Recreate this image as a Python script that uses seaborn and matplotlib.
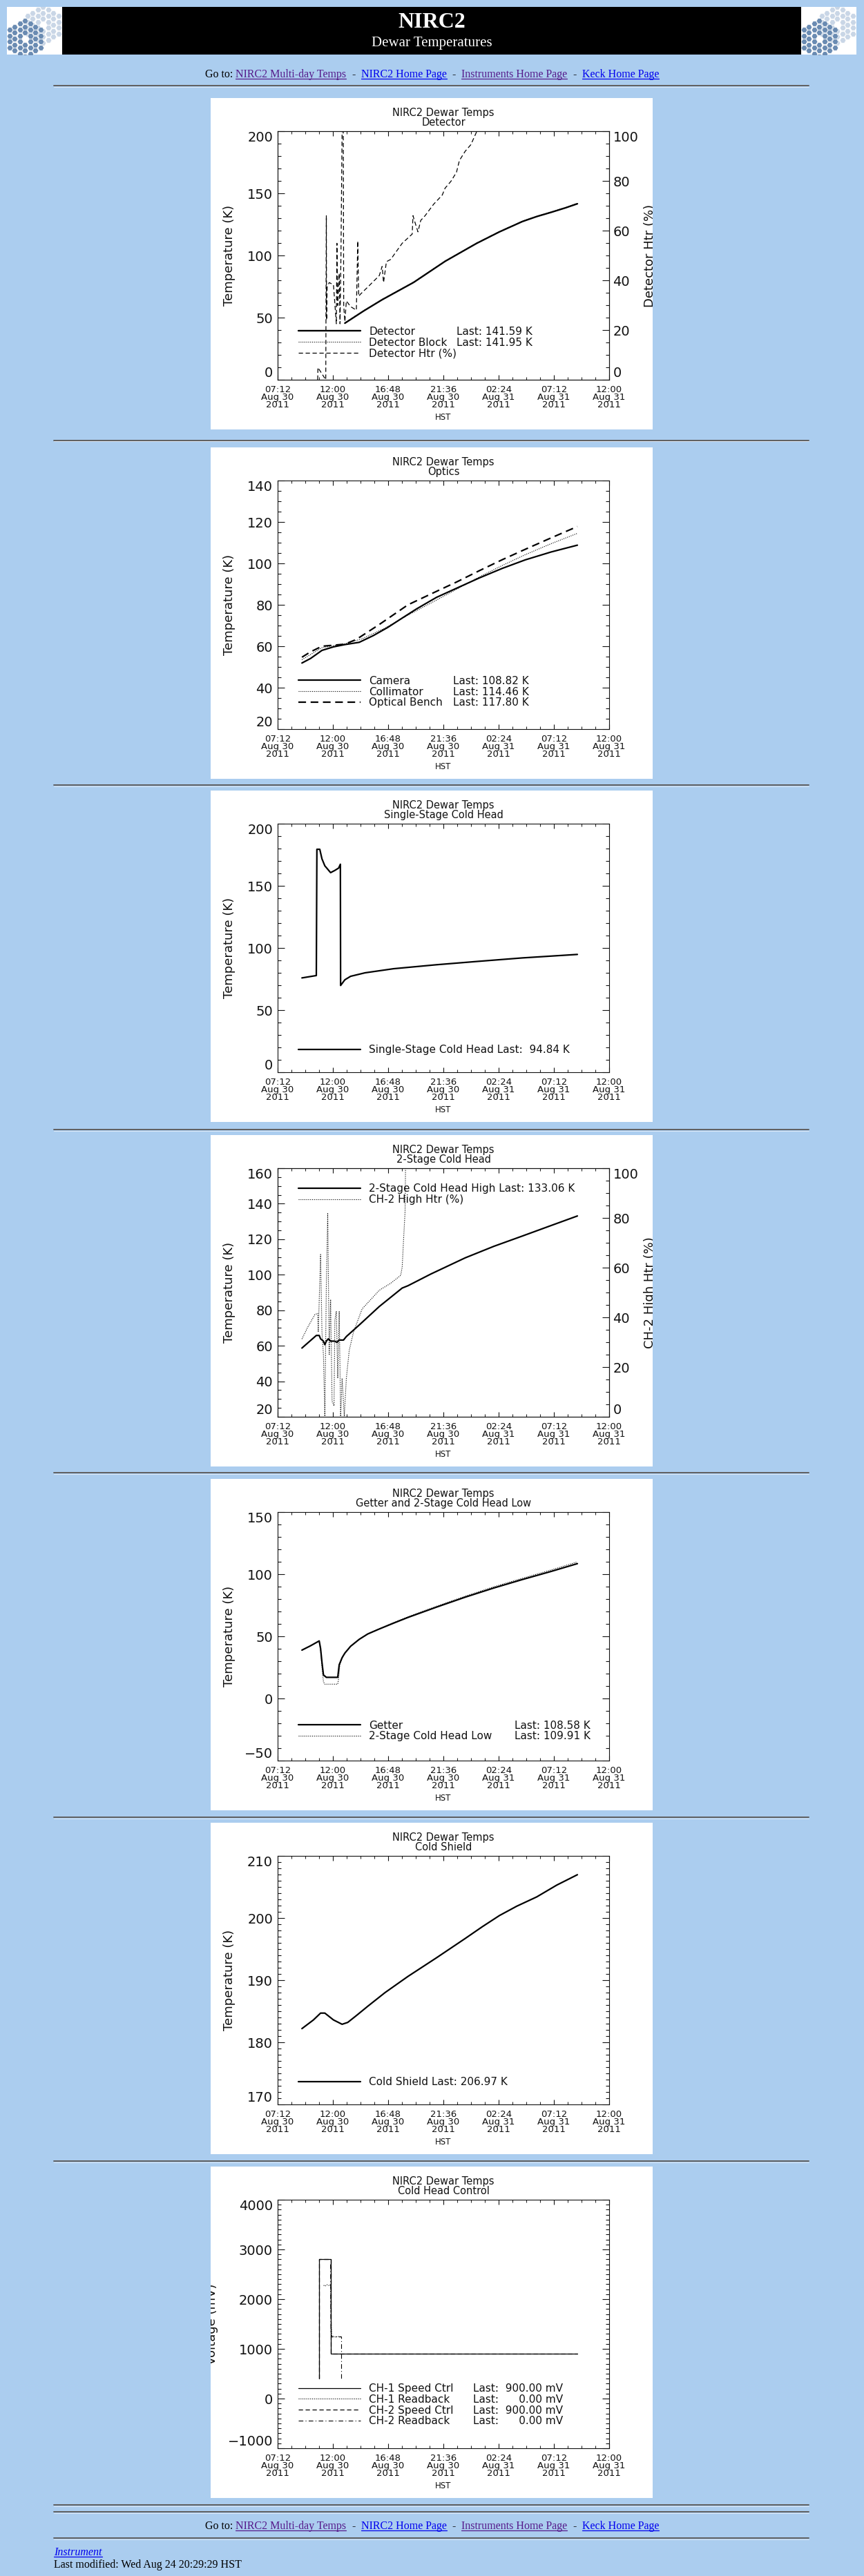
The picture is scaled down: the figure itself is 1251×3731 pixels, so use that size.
import numpy as np
import seaborn as sns
import matplotlib.pyplot as plt
from matplotlib.lines import Line2D
from matplotlib.patches import Rectangle
from matplotlib.ticker import MultipleLocator

# =============================================================================
# === DATA ===
# time is hours after 07:12 HST, Aug 30 2011
# =============================================================================
x_ticks = [0, 4.8, 9.6, 14.4, 19.2, 24.0, 28.8]
x_ticklabels = ["07:12\nAug 30\n2011", "12:00\nAug 30\n2011", "16:48\nAug 30\n2011",
                "21:36\nAug 30\n2011", "02:24\nAug 31\n2011", "07:12\nAug 31\n2011",
                "12:00\nAug 31\n2011"]

# --- Detector ---
det_t = [5.84, 7.50, 9.08, 11.81, 14.55, 17.28, 19.27, 21.26, 22.50, 23.75, 25.00, 26.04]
det_k = [45.5, 55.5, 64.4, 78.3, 95.3, 109.7, 119.0, 127.3, 131.3, 134.7, 138.3, 141.6]
det_block_k = [45.8, 55.8, 64.7, 78.6, 95.6, 110.0, 119.3, 127.6, 131.6, 135.0, 138.6, 141.95]
det_htr_t = [3.48, 3.50, 4.18, 4.23, 4.25, 4.30, 4.48, 4.85, 5.10, 5.15, 5.22, 5.35, 5.42,
             5.50, 5.60, 5.70, 5.74, 5.84, 5.97, 6.34, 6.84, 6.96, 7.04, 7.21, 7.83, 8.83,
             9.08, 9.20, 9.45, 9.82, 10.82, 11.69, 11.76, 11.94, 12.19, 12.43, 12.81, 13.55,
             14.30, 14.55, 15.05, 15.54, 15.79, 16.29, 16.79, 17.28, 17.78]
det_htr_pct = [0, 4.9, 0, 66.0, 24.0, 37.3, 39.1, 38.2, 22.5, 54.9, 29.9, 42.8, 22.5,
               50.2, 100, 100, 29.9, 23.4, 31.7, 29.4, 28.0, 55.8, 33.6, 34.5, 37.3, 41.9,
               45.6, 39.1, 47.5, 48.4, 54.9, 58.6, 66.0, 63.2, 59.5, 64.1, 66.0, 70.6,
               74.3, 77.1, 79.8, 83.5, 88.2, 91.9, 94.6, 99.7, 104.8]

# --- Optics ---
opt_t = [2.11, 2.86, 3.85, 4.85, 5.84, 7.09, 8.33, 9.57, 10.82, 12.06, 13.80, 15.54,
         17.53, 19.52, 21.51, 23.75, 26.04]
camera_k = [51.9, 54.1, 58.0, 59.7, 60.8, 61.9, 65.2, 69.1, 73.6, 78.0, 83.6, 88.0,
            93.0, 97.6, 101.7, 105.5, 108.8]
collim_t = [2.11, 3.85, 5.84, 7.34, 9.33, 11.32, 13.80, 15.54, 17.53, 19.52, 21.51, 23.75, 26.04]
collim_k = [53.5, 59.3, 61.2, 63.6, 68.8, 75.0, 82.3, 87.5, 93.5, 99.0, 104.2, 109.5, 114.5]
bench_t = [2.11, 2.86, 3.85, 5.84, 6.84, 8.83, 11.32, 13.80, 15.54, 17.53, 19.52, 21.51, 23.75, 26.04]
bench_k = [54.7, 57.3, 60.0, 61.0, 63.3, 70.5, 80.0, 86.5, 91.0, 96.5, 101.8, 106.8, 112.3, 117.8]

# --- Single-stage cold head ---
ss_t = [2.11, 3.36, 3.41, 3.66, 3.85, 4.10, 4.60, 4.97, 5.30, 5.45, 5.47, 5.84, 6.34,
        7.59, 10.07, 13.80, 17.53, 21.26, 26.04]
ss_k = [75.9, 77.8, 179.4, 179.4, 171.7, 166.1, 160.6, 162.4, 164.3, 167.4, 69.8, 74.4,
        77.2, 80.0, 83.3, 86.5, 89.3, 92.0, 94.8]

# --- 2-stage cold head ---
ch2_t = [2.11, 3.36, 3.61, 3.73, 3.98, 4.10, 4.23, 4.40, 4.60, 4.97, 5.15, 5.35, 5.72,
         5.97, 7.09, 8.83, 10.82, 11.32, 13.31, 16.29, 18.78, 21.26, 23.75, 26.04]
ch2_high_k = [58.7, 65.8, 65.8, 63.9, 62.6, 60.6, 62.6, 63.9, 62.6, 62.6, 61.9, 63.2,
              63.2, 65.2, 71.7, 82.1, 92.5, 93.8, 100.4, 109.5, 116.0, 121.8, 127.7, 133.1]
ch2_htr_t = [2.11, 2.61, 3.23, 3.48, 3.53, 3.73, 3.85, 3.98, 4.10, 4.23, 4.35, 4.48,
             4.60, 4.73, 4.90, 4.97, 5.10, 5.22, 5.35, 5.47, 5.60, 5.79, 5.97, 6.22,
             6.59, 7.34, 8.83, 9.82, 10.69, 10.82, 10.94, 11.07, 11.12]
ch2_htr_pct = [31.3, 36.0, 41.1, 41.6, 34.1, 65.3, 34.1, 24.8, 0.2, 52.7, 82.0, 24.8,
               47.2, 6.2, 4.4, 38.8, 42.5, 15.5, 42.5, 0.2, 15.5, 0.2, 15.5, 26.7,
               34.1, 43.4, 50.9, 53.7, 56.9, 60.2, 71.3, 82.5, 103.9]

# --- Getter and 2-stage cold head low ---
get_t = [2.11, 2.86, 3.61, 3.73, 3.85, 3.98, 4.23, 5.22, 5.35, 5.60, 5.84, 6.34, 7.09,
         7.83, 8.83, 10.07, 11.32, 13.80, 16.29, 18.78, 21.26, 23.75, 26.04]
getter_k = [38.9, 42.4, 46.3, 40.2, 29.1, 18.9, 17.0, 17.0, 27.2, 32.8, 36.5, 42.0, 47.6,
            51.9, 55.9, 60.6, 65.2, 73.5, 81.5, 88.9, 95.7, 102.2, 108.5]
low_t = [2.11, 2.86, 3.61, 3.73, 3.85, 3.98, 4.10, 5.22, 5.30, 5.40, 5.60, 5.84, 6.34,
         7.09, 7.83, 8.83, 10.07, 11.32, 13.80, 16.29, 18.78, 21.26, 23.75, 26.04]
low_k = [38.9, 42.4, 46.3, 39.0, 25.4, 13.3, 11.5, 11.5, 16.1, 27.0, 32.8, 36.5, 42.0,
         47.6, 52.0, 56.2, 61.0, 65.7, 74.2, 82.3, 89.9, 96.7, 103.4, 109.9]

# --- Cold shield ---
cs_t = [2.11, 3.11, 3.73, 4.10, 4.85, 5.60, 6.09, 6.84, 7.83, 9.33, 11.32, 13.80, 16.29,
        17.78, 19.27, 20.77, 22.51, 24.25, 26.04]
cs_k = [182.2, 183.6, 184.7, 184.7, 183.6, 182.9, 183.2, 184.3, 185.8, 188.0, 190.6,
        193.6, 196.7, 198.6, 200.4, 201.9, 203.4, 205.3, 206.97]

# --- Cold head control (mV) ---
spd1_t = [3.61, 3.61, 4.63, 4.63, 26.04]
spd1_mv = [400, 2800, 2800, 900, 900]
rb1_t = [4.00, 4.10, 4.30, 4.50, 4.60, 4.65, 4.70, 5.00, 5.40, 5.55]
rb1_mv = [2280, 2260, 2290, 2270, 2300, 1500, 1260, 1240, 1250, 1240]
spd2_t = [3.61, 3.61, 4.61, 4.61, 26.04]
spd2_mv = [400, 2800, 2800, 900, 900]
rb2_t = [4.60, 4.63, 4.70, 5.55, 5.55]
rb2_mv = [2700, 1300, 1240, 1240, 400]

# =============================================================================
# === PAGE LAYOUT ===
# =============================================================================
sns.set_theme(style="ticks")
plt.rcParams["font.family"] = ["DejaVu Sans"]

W, H = 1251, 3731
PAGE_BG = "#abcdef"
PANEL_X = 305
panel_tops = [142, 648, 1145, 1644, 2142, 2640, 3138]
hr_rows = [124, 638, 1137, 1636, 2133, 2632, 3130, 3628, 3638, 3676]
VISITED, LINK = "#551a8b", "#0000ee"

fig = plt.figure(figsize=(W / 100, H / 100), dpi=100, facecolor=PAGE_BG)
renderer = fig.canvas.get_renderer()


def fx(px):
    return px / W


def fy(py):
    return 1 - py / H


def draw_logo(x0):
    fig.add_artist(Rectangle((fx(x0), fy(79)), 80 / W, 69 / H, transform=fig.transFigure,
                             facecolor="white", edgecolor="none", zorder=-1))
    lax = fig.add_axes([fx(x0), fy(79), 80 / W, 69 / H])
    lax.set_xlim(0, 80)
    lax.set_ylim(69, 0)
    lax.set_axis_off()
    for cx, cy, col in [(52, 26, "#c9d6e6"), (26, 46, "#6a8bb2")]:
        xs, ys = [], []
        for q in range(-3, 4):
            for r in range(-3, 4):
                d = max(abs(q), abs(r), abs(q + r))
                if 1 <= d <= 3:
                    xs.append(cx + 7.5 * q)
                    ys.append(cy + 8.66 * (r + q / 2))
        lax.scatter(xs, ys, marker="H", s=38, color=col, edgecolors="white", linewidths=0.4)


def nav_line(y_base):
    parts = [("Go to:", "black", False), ("NIRC2 Multi-day Temps", VISITED, True), ("-", "black", False),
             ("NIRC2 Home Page", LINK, True), ("-", "black", False),
             ("Instruments Home Page", VISITED, True), ("-", "black", False),
             ("Keck Home Page", LINK, True)]
    gap = 4
    items = []
    for s, c, u in parts:
        t = fig.text(0, fy(y_base), s, color=c, fontsize=11.5, family="Liberation Serif", va="baseline")
        items.append((t, t.get_window_extent(renderer).width, c, u))
    total = sum(w for _, w, _, _ in items) + gap * 2 * (len(items) - 1) - gap
    x = (W - total) / 2
    for i, (t, w, c, u) in enumerate(items):
        t.set_x(fx(x))
        if u:
            fig.add_artist(Line2D([fx(x), fx(x + w)], [fy(y_base + 2)] * 2, color=c, lw=0.9))
        x += w + (gap if i == 0 else 2 * gap)


# header
draw_logo(10)
draw_logo(1160)
fig.add_artist(Rectangle((fx(90), fy(79)), 1070 / W, 69 / H, transform=fig.transFigure,
                         facecolor="black", edgecolor="none", zorder=-1))
fig.text(fx(625), fy(32), "NIRC2", color="white", fontsize=23, fontweight="bold",
         family="Liberation Serif", ha="center", va="center")
fig.text(fx(625), fy(63), "Dewar Temperatures", color="white", fontsize=15,
         family="Liberation Serif", ha="center", va="center")
nav_line(112)

for yy in hr_rows:
    fig.add_artist(Line2D([fx(78), fx(1171)], [fy(yy)] * 2, color="#5f5f5f", lw=1.4))
    fig.add_artist(Line2D([fx(78), fx(1171)], [fy(yy + 1.5)] * 2, color="#e4ecf5", lw=0.6))

nav_line(3663)
fig.text(fx(78), fy(3701), "Instrument", color=LINK, fontsize=11.5, fontstyle="italic",
         family="Liberation Serif", va="baseline")
iw = fig.texts[-1].get_window_extent(renderer).width
fig.add_artist(Line2D([fx(78), fx(78 + iw)], [fy(3703)] * 2, color=LINK, lw=0.9))
fig.text(fx(78), fy(3719), "Last modified: Wed Aug 24 20:29:29 HST", color="black",
         fontsize=11.5, family="Liberation Serif", va="baseline")


# =============================================================================
# === PANELS ===
# =============================================================================
def style_y(ax, lo, hi, major, minor):
    ax.set_ylim(lo, hi)
    ax.set_yticks(np.arange(lo, hi + major / 2, major))
    ax.yaxis.set_minor_locator(MultipleLocator(minor))
    ax.tick_params(axis="y", which="major", direction="in", length=7, width=0.8,
                   labelsize=14, pad=5, colors="#111")
    ax.tick_params(axis="y", which="minor", direction="in", length=3.5, width=0.8, colors="#111")
    labels = ax.get_yticklabels()
    labels[0].set_verticalalignment("bottom")
    labels[-1].set_verticalalignment("top")
    for sp in ax.spines.values():
        sp.set_color("#111")
        sp.set_linewidth(0.8)


def make_panel(top, subtitle, lo, hi, major, minor, ylabel="Temperature (K)", label_x=-0.127):
    rect = Rectangle((fx(PANEL_X), fy(top + 480)), 640 / W, 480 / H, transform=fig.transFigure,
                     facecolor="white", edgecolor="none", zorder=-1)
    fig.add_artist(rect)
    ax = fig.add_axes([fx(PANEL_X + 97), fy(top + 408), 480 / W, 360 / H])
    ax.set_facecolor("white")
    ax.set_xlim(0, 28.8)
    ax.set_xticks(x_ticks, x_ticklabels)
    ax.xaxis.set_minor_locator(MultipleLocator(1.2))
    ax.tick_params(axis="x", which="major", direction="in", length=5, width=0.8,
                   labelsize=9.5, pad=6, top=True, colors="#111")
    ax.tick_params(axis="x", which="minor", direction="in", length=2.6, width=0.8, top=True)
    for lbl in ax.get_xticklabels():
        lbl.set_linespacing(0.8)
    style_y(ax, lo, hi, major, minor)
    ax.tick_params(axis="y", which="both", right=True)
    ax.set_title("NIRC2 Dewar Temps\n" + subtitle, fontsize=10.5, linespacing=0.85, pad=6, color="#111")
    ax.set_xlabel("HST", fontsize=8.5, color="#111")
    ax.xaxis.set_label_coords(0.5, -0.133)
    ax.set_ylabel(ylabel, fontsize=13, color="#111")
    ax.yaxis.set_label_coords(label_x, 0.5)
    ax.yaxis.label.set_clip_path(rect)
    return ax, rect


def add_twin(ax, rect, ylabel):
    ax2 = ax.twinx()
    style_y(ax2, 0, 100, 20, 5)
    ax2.tick_params(axis="y", which="major", pad=4)
    ax2.set_ylabel(ylabel, fontsize=13, color="#111")
    ax2.yaxis.set_label_coords(1.104, 0.5)
    ax2.yaxis.label.set_clip_path(rect)
    return ax2


def line(ax, t, v, lw=1.6, ls="-"):
    sns.lineplot(x=t, y=v, ax=ax, color="black", linewidth=lw, linestyle=ls,
                 estimator=None, sort=False)
    return ax.lines[-1]


def add_legend(ax, handles, names, top_y, lasts=None, last_x=0.54):
    kw = dict(loc="upper left", frameon=False, fontsize=11, borderpad=0, borderaxespad=0,
              labelspacing=0.05, labelcolor="#111")
    leg = ax.legend(handles, names, bbox_to_anchor=(0.0625, top_y), handlelength=5.9,
                    handletextpad=0.8, **kw)
    if lasts:
        ax.add_artist(leg)
        blanks = [Line2D([], [], alpha=0) for _ in lasts]
        ax.legend(blanks, lasts, bbox_to_anchor=(last_x, top_y), handlelength=0,
                  handletextpad=0, **kw)


DOT = (0, (1, 1.5))
DASH = (0, (5, 3))
DASHDOT = (0, (6, 3, 1, 3))

# 1. Detector
ax, rect = make_panel(panel_tops[0], "Detector", 0, 200, 50, 10)
ax2 = add_twin(ax, rect, "Detector Htr (%)")
h1 = line(ax, det_t, det_k, lw=1.7)
h2 = line(ax, det_t, det_block_k, lw=0.8, ls=DOT)
h3 = line(ax2, det_htr_t, det_htr_pct, lw=0.9, ls=DASH)
add_legend(ax2, [h1, h2, h3], ["Detector", "Detector Block", "Detector Htr (%)"], 0.2145,
           ["Last: 141.59 K", "Last: 141.95 K", " "], 0.54)

# 2. Optics
ax, rect = make_panel(panel_tops[1], "Optics", 20, 140, 20, 5)
h1 = line(ax, opt_t, camera_k, lw=1.6)
h2 = line(ax, collim_t, collim_k, lw=0.8, ls=DOT)
h3 = line(ax, bench_t, bench_k, lw=1.6, ls=DASH)
add_legend(ax, [h1, h2, h3], ["Camera", "Collimator", "Optical Bench"], 0.2145,
           ["Last: 108.82 K", "Last: 114.46 K", "Last: 117.80 K"], 0.53)

# 3. Single-stage cold head
ax, rect = make_panel(panel_tops[2], "Single-Stage Cold Head", 0, 200, 50, 10)
h1 = line(ax, ss_t, ss_k, lw=1.6)
add_legend(ax, [h1], ["Single-Stage Cold Head Last:  94.84 K"], 0.111)

# 4. 2-stage cold head
ax, rect = make_panel(panel_tops[3], "2-Stage Cold Head", 20, 160, 20, 5)
ax2 = add_twin(ax, rect, "CH-2 High Htr (%)")
h1 = line(ax, ch2_t, ch2_high_k, lw=1.6)
h2 = line(ax2, ch2_htr_t, ch2_htr_pct, lw=0.8, ls=DOT)
add_legend(ax2, [h1, h2], ["2-Stage Cold Head High Last: 133.06 K", "CH-2 High Htr (%)"], 0.938)

# 5. Getter and 2-stage cold head low
ax, rect = make_panel(panel_tops[4], "Getter and 2-Stage Cold Head Low", -50, 150, 50, 10)
h1 = line(ax, get_t, getter_k, lw=1.6)
h2 = line(ax, low_t, low_k, lw=0.8, ls=DOT)
add_legend(ax, [h1, h2], ["Getter", "2-Stage Cold Head Low"], 0.162,
           ["Last: 108.58 K", "Last: 109.91 K"], 0.715)

# 6. Cold shield
ax, rect = make_panel(panel_tops[5], "Cold Shield", 170, 210, 10, 1)
h1 = line(ax, cs_t, cs_k, lw=1.6)
add_legend(ax, [h1], ["Cold Shield Last: 206.97 K"], 0.111)

# 7. Cold head control
ax, rect = make_panel(panel_tops[6], "Cold Head Control", -1000, 4000, 1000, 100,
                      ylabel="Voltage (mV)", label_x=-0.179)
h1 = line(ax, spd1_t, spd1_mv, lw=0.9)
h2 = line(ax, rb1_t, rb1_mv, lw=0.8, ls=DOT)
h3 = line(ax, spd2_t, spd2_mv, lw=0.9, ls=DASH)
h4 = line(ax, rb2_t, rb2_mv, lw=0.8, ls=DASHDOT)
add_legend(ax, [h1, h2, h3, h4],
           ["CH-1 Speed Ctrl", "CH-1 Readback", "CH-2 Speed Ctrl", "CH-2 Readback"], 0.261,
           ["Last:  900.00 mV", "Last:  \u2007\u20070.00 mV", "Last:  900.00 mV",
            "Last:  \u2007\u20070.00 mV"], 0.589)

fig.savefig("out.png", dpi=100, facecolor=PAGE_BG)
